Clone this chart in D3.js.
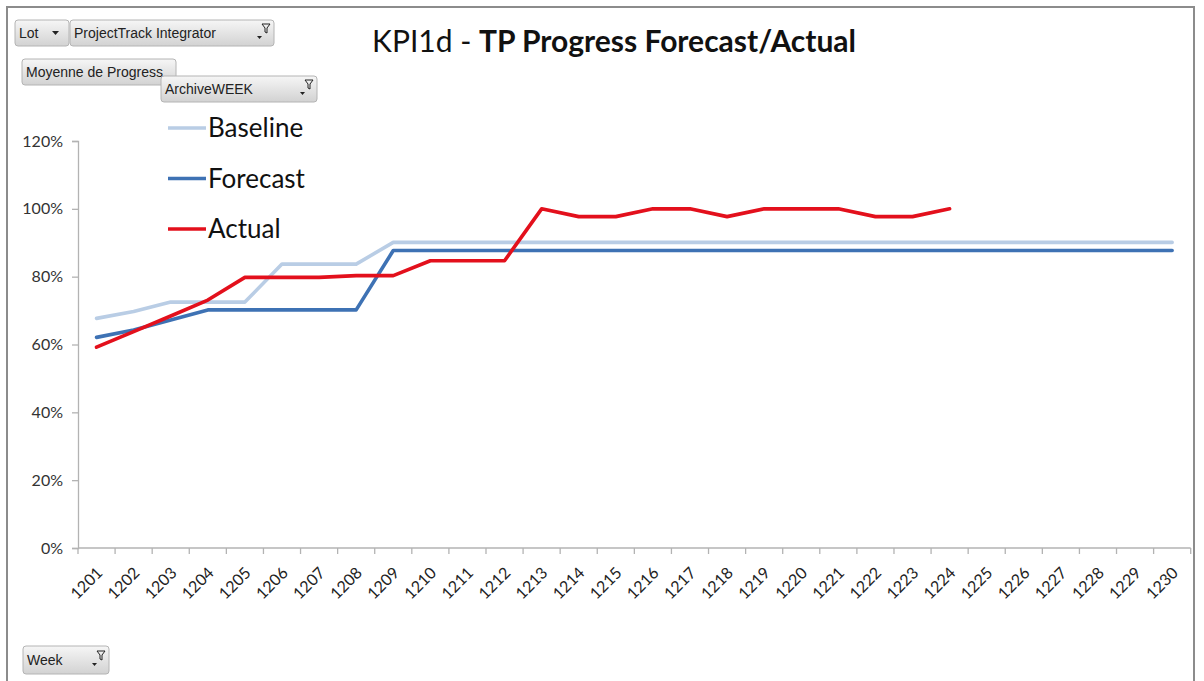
<!DOCTYPE html>
<html lang="fr">
  <head>
    <meta charset="utf-8" />
    <title>KPI1d - TP Progress Forecast/Actual</title>
    <script src="https://d3js.org/d3.v7.min.js"></script>
    <style type="text/css">
      body { margin: 0; background: #fff; }
      svg text { font-family: Lato, 'Open Sans', sans-serif; }
      .btn text { font-family: 'Liberation Sans', Arial, sans-serif; font-size: 14px; fill: #222; }
    </style>
  </head>
  <body>
    <script type="text/javascript">
      // data
      const weeks = ['1201', '1202', '1203', '1204', '1205', '1206', '1207', '1208', '1209', '1210',
        '1211', '1212', '1213', '1214', '1215', '1216', '1217', '1218', '1219', '1220',
        '1221', '1222', '1223', '1224', '1225', '1226', '1227', '1228', '1229', '1230'];
      const baseline = [0.677, 0.697, 0.725, 0.725, 0.725, 0.837, 0.837, 0.837, 0.901, 0.901,
        0.901, 0.901, 0.901, 0.901, 0.901, 0.901, 0.901, 0.901, 0.901, 0.901,
        0.901, 0.901, 0.901, 0.901, 0.901, 0.901, 0.901, 0.901, 0.901, 0.901];
      const forecast = [0.621, 0.643, 0.672, 0.702, 0.702, 0.702, 0.702, 0.702, 0.877, 0.877,
        0.877, 0.877, 0.877, 0.877, 0.877, 0.877, 0.877, 0.877, 0.877, 0.877,
        0.877, 0.877, 0.877, 0.877, 0.877, 0.877, 0.877, 0.877, 0.877, 0.877];
      const actual = [0.592, 0.638, 0.684, 0.731, 0.798, 0.798, 0.798, 0.803, 0.803, 0.847,
        0.847, 0.847, 1.0, 0.977, 0.977, 1.0, 1.0, 0.977, 1.0, 1.0,
        1.0, 0.977, 0.977, 1.0];
      const yTicks = [0, 0.2, 0.4, 0.6, 0.8, 1.0, 1.2];
      const seriesNames = ['Baseline', 'Forecast', 'Actual'];
      const seriesColors = ['#b9cde5', '#3e72b4', '#e3101c'];

      const w = 1204;
      const h = 681;

      const svg = d3.select('body').append('svg').attr('width', w).attr('height', h);

      // button gradient
      const defs = svg.append('defs');
      const grad = defs.append('linearGradient').attr('id', 'btnGrad')
        .attr('x1', 0).attr('y1', 0).attr('x2', 0).attr('y2', 1);
      grad.append('stop').attr('offset', '0%').attr('stop-color', '#f6f6f6');
      grad.append('stop').attr('offset', '100%').attr('stop-color', '#d2d2d2');

      // outer frame
      svg.append('rect')
        .attr('x', 7).attr('y', 7).attr('width', 1187).attr('height', 700)
        .attr('fill', 'none').attr('stroke', '#8c8c8c').attr('stroke-width', 2);

      // scales
      const xScale = d3.scaleBand().domain(weeks).range([78, 1190.7]).padding(0);
      const cx = d => xScale(d) + xScale.bandwidth() / 2;
      const yScale = d3.scaleLinear().domain([0, 1.2]).range([548, 141]);

      // y axis
      const yAxis = d3.axisLeft(yScale).tickValues(yTicks).tickFormat(d3.format('.0%'))
        .tickSize(6).tickPadding(9);
      const gy = svg.append('g').attr('transform', 'translate(78,0)').call(yAxis);
      gy.select('.domain').attr('stroke', '#b3b3b3').attr('stroke-width', 1.3);
      gy.selectAll('.tick line').attr('stroke', '#b3b3b3').attr('stroke-width', 1.3);
      gy.selectAll('.tick text').style('font-size', '16px').attr('fill', '#333');

      // x axis: labels from the band scale, tick marks on band edges
      const xAxis = d3.axisBottom(xScale).tickSize(0).tickPadding(0);
      const gx = svg.append('g').attr('transform', 'translate(0,548)').call(xAxis);
      gx.select('.domain').remove();
      gx.selectAll('.tick text')
        .style('font-size', '16px')
        .attr('fill', '#222')
        .attr('text-anchor', 'end')
        .attr('dy', '0.35em')
        .attr('transform', 'translate(3,22) rotate(-45)');
      svg.append('line')
        .attr('x1', xScale.range()[0]).attr('x2', xScale.range()[1])
        .attr('y1', yScale(0)).attr('y2', yScale(0))
        .attr('stroke', '#b3b3b3').attr('stroke-width', 1.3);
      const edges = weeks.map(d => xScale(d)).concat([xScale.range()[1]]);
      svg.append('g').selectAll('line').data(edges).enter().append('line')
        .attr('x1', d => d).attr('x2', d => d)
        .attr('y1', yScale(0)).attr('y2', yScale(0) + 6)
        .attr('stroke', '#b3b3b3').attr('stroke-width', 1.3);

      // lines
      const line = d3.line().x(d => cx(d.week)).y(d => yScale(d.value));
      [baseline, forecast, actual].forEach((vals, i) => {
        const pts = vals.map((v, j) => ({ week: weeks[j], value: v }));
        svg.append('path')
          .datum(pts)
          .attr('fill', 'none')
          .attr('stroke', seriesColors[i])
          .attr('stroke-width', 3.6)
          .attr('stroke-linejoin', 'round')
          .attr('stroke-linecap', 'round')
          .attr('d', line);
      });

      // legend
      const legend = svg.append('g').selectAll('g').data(seriesNames).enter().append('g')
        .attr('transform', (d, i) => `translate(168,${128 + i * 50.5})`);
      legend.append('line')
        .attr('x1', 0).attr('x2', 38).attr('y1', 0).attr('y2', 0)
        .attr('stroke', (d, i) => seriesColors[i]).attr('stroke-width', 3.6);
      legend.append('text')
        .attr('x', 40).attr('y', 0).attr('dy', '0.35em')
        .style('font-size', '26px').attr('fill', '#111')
        .text(d => d);

      // title
      const title = svg.append('text').attr('x', 372).attr('y', 52)
        .style('font-size', '30px').attr('fill', '#111');
      title.append('tspan').text('KPI1d - ');
      title.append('tspan').style('font-weight', 'bold').text('TP Progress Forecast/Actual');

      // pivot field buttons
      const buttons = [
        { label: 'Lot', x: 15, y: 20, w: 54, h: 26, icon: 'arrow' },
        { label: 'ProjectTrack Integrator', x: 70, y: 20, w: 204, h: 26, icon: 'filter' },
        { label: 'Moyenne de Progress', x: 22, y: 59, w: 154, h: 26, icon: 'none' },
        { label: 'ArchiveWEEK', x: 161, y: 76, w: 156, h: 26, icon: 'filter' },
        { label: 'Week', x: 23, y: 646, w: 86, h: 28, icon: 'filter' }
      ];
      const btn = svg.append('g').selectAll('g').data(buttons).enter().append('g')
        .attr('class', 'btn')
        .attr('transform', d => `translate(${d.x},${d.y})`);
      btn.append('rect')
        .attr('width', d => d.w).attr('height', d => d.h).attr('rx', 3)
        .attr('fill', 'url(#btnGrad)').attr('stroke', '#b4b4b4');
      btn.append('text')
        .attr('x', 4).attr('y', d => d.h / 2).attr('dy', '0.35em')
        .text(d => d.label);
      btn.filter(d => d.icon === 'arrow').append('path')
        .attr('d', d => `M${d.w - 17},${d.h / 2 - 2} l7,0 l-3.5,4 z`)
        .attr('fill', '#222');
      const filt = btn.filter(d => d.icon === 'filter');
      filt.append('path')
        .attr('d', d => `M${d.w - 17},${d.h / 2 + 3} l5,0 l-2.5,3 z`)
        .attr('fill', '#222');
      filt.append('path')
        .attr('d', d => `M${d.w - 12},${d.h / 2 - 9} l8,0 l-3,4 l0,5 l-2,-1 l0,-4 z`)
        .attr('fill', 'none').attr('stroke', '#222').attr('stroke-width', 1);
    </script>
  </body>
</html>
